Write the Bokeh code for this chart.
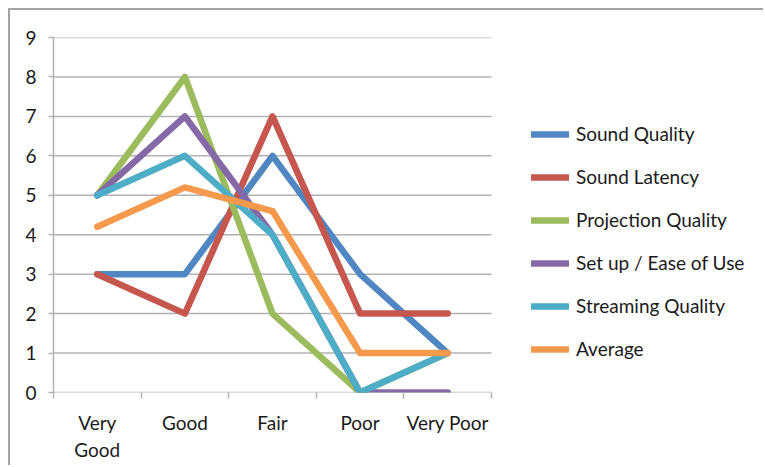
from bokeh.plotting import figure
from bokeh.models import Range1d, FixedTicker, Legend, LegendItem, Spacer
from bokeh.layouts import column, row
from bokeh.embed import file_html
from bokeh.resources import INLINE

# ---- data ----
categories = ["Very\nGood", "Good", "Fair", "Poor", "Very Poor"]
sound_quality = [3, 3, 6, 3, 1]
sound_latency = [3, 2, 7, 2, 2]
projection_quality = [5, 8, 2, 0, 1]
setup_ease_of_use = [5, 7, 4, 0, 0]
streaming_quality = [5, 6, 4, 0, 1]
average = [4.2, 5.2, 4.6, 1, 1]
series_names = ["Sound Quality", "Sound Latency", "Projection Quality",
                "Set up / Ease of Use", "Streaming Quality", "Average"]
series_values = [sound_quality, sound_latency, projection_quality,
                 setup_ease_of_use, streaming_quality, average]
series_colors = ["#5087C3", "#C5574F", "#9CBB5D", "#8569A7", "#4DADC7", "#F59A4C"]
y_ticks = [0, 1, 2, 3, 4, 5, 6, 7, 8, 9]

FONT = "Lato"
GRID = "#b2b2b2"
FS = "19px"

n = len(categories)
x_centers = [i + 0.5 for i in range(n)]
x_bounds = [i for i in range(n + 1)]

W, H = 755, 457
ML, MT, MB, MR = 43, 27, 75, 5
plot_px = 438                      # width of the category area
frame_px = W - ML - MR
x_end = n * frame_px / plot_px     # frame extends right to hold the legend

p = figure(width=W, height=H, output_backend="svg", toolbar_location=None,
           x_range=Range1d(0, x_end), y_range=Range1d(0, 9),
           min_border_left=ML, min_border_top=MT, min_border_bottom=MB,
           min_border_right=MR)
p.styles = {"border-top": "2px solid #a3a3a3", "border-left": "2px solid #a3a3a3"}
p.outline_line_color = None
p.background_fill_color = "white"
p.border_fill_color = "white"

# x axis
p.xaxis.ticker = FixedTicker(ticks=x_centers, minor_ticks=x_bounds)
p.xaxis.major_label_overrides = {c: lab for c, lab in zip(x_centers, categories)}
p.xaxis.major_tick_out = 0
p.xaxis.major_tick_in = 0
p.xaxis.minor_tick_out = 6
p.xaxis.minor_tick_in = 0
p.xaxis.minor_tick_line_color = GRID
p.xaxis.minor_tick_line_width = 1.5
p.xaxis.axis_line_color = None
p.xaxis.major_label_text_font = FONT
p.xaxis.major_label_text_font_size = FS
p.xaxis.major_label_text_color = "#1a1a1a"
p.xaxis.major_label_standoff = 12

# y axis
p.yaxis.ticker = FixedTicker(ticks=y_ticks, minor_ticks=[])
p.yaxis.major_tick_out = 5
p.yaxis.major_tick_in = 0
p.yaxis.major_tick_line_color = GRID
p.yaxis.major_tick_line_width = 1.5
p.yaxis.axis_line_color = GRID
p.yaxis.axis_line_width = 1.5
p.yaxis.major_label_text_font = FONT
p.yaxis.major_label_text_font_size = FS
p.yaxis.major_label_text_color = "#1a1a1a"
p.yaxis.major_label_standoff = 12

p.xgrid.grid_line_color = None
p.ygrid.grid_line_color = None

# horizontal gridlines limited to the category area
p.segment(x0=0, x1=n, y0=y_ticks, y1=y_ticks, line_color=GRID, line_width=1.5)

items = []
for name, vals, col in zip(series_names, series_values, series_colors):
    r = p.line(x_centers, vals, line_width=6.5, line_color=col,
               line_cap="round", line_join="round")
    items.append(LegendItem(label=name, renderers=[r]))

legend = Legend(items=items, location=(478, 32), orientation="vertical",
                glyph_width=38, glyph_height=20, label_height=20,
                label_standoff=7, spacing=20, padding=0, margin=0,
                label_text_font=FONT, label_text_font_size=FS,
                label_text_color="#1a1a1a",
                border_line_alpha=0, background_fill_alpha=0)
p.add_layout(legend)

root = column(Spacer(width=765, height=8),
              row(Spacer(width=8, height=H + 2), p))

open("out.html", "w").write(file_html(root, INLINE))
